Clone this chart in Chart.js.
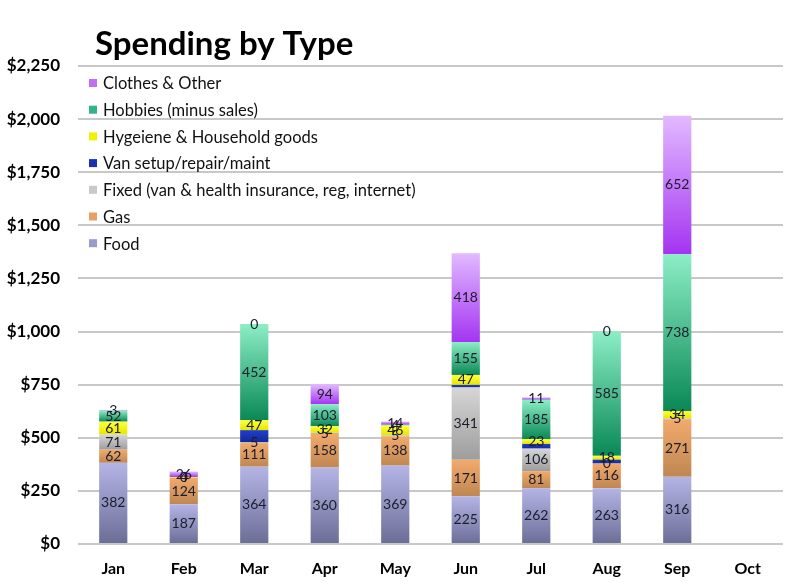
<!DOCTYPE html>
<html>
<head>
<meta charset="utf-8">
<script src="https://cdn.jsdelivr.net/npm/chart.js"></script>
<style>
  html, body { margin: 0; padding: 0; background: #ffffff; }
  #wrap { width: 800px; height: 585px; }
</style>
</head>
<body>
<div id="wrap"><canvas id="spendChart" width="800" height="585"></canvas></div>
<script>
// Spending by month, stacked bottom -> top
const months = ['Jan', 'Feb', 'Mar', 'Apr', 'May', 'Jun', 'Jul', 'Aug', 'Sep', 'Oct'];

const food     = [382, 187, 364, 360, 369, 225, 262, 263, 316, null];
const gas      = [62, 124, 111, 158, 138, 171, 81, 116, 271, null];
const fixed    = [71, 0, 5, 5, 5, 341, 106, 0, 5, null];
const van      = [null, null, 56, null, null, 12, 22, 18, null, null];
const hygiene  = [61, 4, 47, 32, 46, 47, 23, 18, 34, null];
const hobbies  = [52, null, 452, 103, 4, 155, 185, 585, 738, null];
const clothes  = [3, 26, 0, 94, 14, 418, 11, 0, 652, null];

const yTicks = [0, 250, 500, 750, 1000, 1250, 1500, 1750, 2000, 2250];

// name, values, gradient top, gradient bottom, legend swatch, show value labels
const series = [
    { label: 'Food', data: food, top: '#b4b5e6', bottom: '#6c6d96', swatch: '#9a9bcb', showLabels: true },
    { label: 'Gas', data: gas, top: '#f2aa6c', bottom: '#bf8752', swatch: '#e6a066', showLabels: true },
    { label: 'Fixed (van & health insurance, reg, internet)', data: fixed, top: '#d6d6d6', bottom: '#9d9d9d', swatch: '#c9c9c9', showLabels: true },
    { label: 'Van setup/repair/maint', data: van, top: '#2040c8', bottom: '#14289a', swatch: '#1a32b0', showLabels: false },
    { label: 'Hygeiene & Household goods', data: hygiene, top: '#ffff40', bottom: '#e6e600', swatch: '#f2f200', showLabels: true },
    { label: 'Hobbies (minus sales)', data: hobbies, top: '#8ceec6', bottom: '#0a8856', swatch: '#34b484', showLabels: true },
    { label: 'Clothes & Other', data: clothes, top: '#e2baff', bottom: '#a434f2', swatch: '#c46ef4', showLabels: true }
];

const FONT = 'Lato, "Open Sans", sans-serif';

function stackStart(dsIndex, idx) {
    let s = 0;
    for (let k = 0; k < dsIndex; k++) {
        s += series[k].data[idx] || 0;
    }
    return s;
}

function segmentFill(c) {
    const s = series[c.datasetIndex];
    const chart = c.chart;
    const y = chart.scales && chart.scales.y;
    if (!y || c.type !== 'data') return s.swatch;
    const v = s.data[c.dataIndex] || 0;
    const start = stackStart(c.datasetIndex, c.dataIndex);
    const y0 = y.getPixelForValue(start + v);
    const y1 = y.getPixelForValue(start);
    if (!isFinite(y0) || !isFinite(y1) || y1 - y0 < 1) return s.swatch;
    const g = chart.ctx.createLinearGradient(0, y0, 0, y1);
    g.addColorStop(0, s.top);
    g.addColorStop(1, s.bottom);
    return g;
}

// value labels in the middle of each segment
const valueLabels = {
    id: 'valueLabels',
    afterDatasetsDraw(chart) {
        const ctx = chart.ctx;
        ctx.save();
        ctx.font = '14px ' + FONT;
        ctx.fillStyle = '#1c1c2a';
        ctx.textAlign = 'center';
        ctx.textBaseline = 'middle';
        chart.data.datasets.forEach((ds, i) => {
            if (!series[i].showLabels) return;
            const meta = chart.getDatasetMeta(i);
            meta.data.forEach((bar, j) => {
                const v = ds.data[j];
                if (v === null || v === undefined) return;
                ctx.fillText(String(v), bar.x, (bar.y + bar.base) / 2);
            });
        });
        ctx.restore();
    }
};

// title and legend drawn inside the plot, legend listed top -> bottom in reverse stack order
const titleAndLegend = {
    id: 'titleAndLegend',
    afterDraw(chart) {
        const ctx = chart.ctx;
        const area = chart.chartArea;
        ctx.save();
        ctx.fillStyle = '#000000';
        ctx.font = 'bold 33px ' + FONT;
        ctx.textAlign = 'left';
        ctx.textBaseline = 'middle';
        ctx.fillText('Spending by Type', 95, 44);

        ctx.font = '16.5px ' + FONT;
        const x0 = area.left + 11;
        let yy = area.top + 18;
        for (let k = series.length - 1; k >= 0; k--) {
            ctx.fillStyle = series[k].swatch;
            ctx.fillRect(x0, yy - 5, 8, 8);
            ctx.fillStyle = '#111111';
            ctx.fillText(series[k].label, x0 + 14, yy);
            yy += 26.7;
        }
        ctx.restore();
    }
};

const chartData = {
    labels: months,
    datasets: series.map(s => ({
        label: s.label,
        data: s.data,
        backgroundColor: segmentFill,
        borderWidth: 0,
        barPercentage: 0.8,
        categoryPercentage: 0.5
    }))
};

const config = {
    type: 'bar',
    data: chartData,
    options: {
        responsive: false,
        animation: false,
        layout: {
            padding: { top: 66, right: 17, bottom: 0, left: 0 }
        },
        plugins: {
            legend: { display: false },
            title: { display: false },
            tooltip: { enabled: false }
        },
        scales: {
            x: {
                stacked: true,
                grid: { display: false, drawTicks: false },
                border: { display: false },
                ticks: {
                    color: '#000000',
                    font: { family: FONT, size: 16, weight: 'bold' },
                    padding: 15
                },
                afterFit: s => { s.height = 41; }
            },
            y: {
                stacked: true,
                min: 0,
                max: yTicks[yTicks.length - 1],
                afterBuildTicks: s => { s.ticks = yTicks.map(v => ({ value: v })); },
                grid: { color: '#c8c8c8', lineWidth: 2, drawTicks: false },
                border: { display: false },
                ticks: {
                    color: '#000000',
                    font: { family: FONT, size: 17, weight: 'bold' },
                    padding: 18,
                    callback: v => '$' + v.toLocaleString('en-US')
                },
                afterFit: s => { s.width = 78; }
            }
        }
    },
    plugins: [valueLabels, titleAndLegend]
};

new Chart(document.getElementById('spendChart'), config);
</script>
</body>
</html>
